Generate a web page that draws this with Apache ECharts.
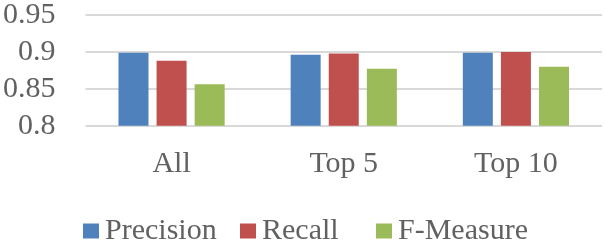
<!DOCTYPE html>
<html>
<head>
<meta charset="utf-8">
<script src="https://cdn.jsdelivr.net/npm/echarts@6/dist/echarts.min.js"></script>
<style>
html,body{margin:0;padding:0;background:#fff;}
#chart{width:605px;height:242px;}
</style>
</head>
<body>
<div id="chart"></div>
<script>
var categories = ['All', 'Top 5', 'Top 10'];
var precision = [0.899, 0.896, 0.899];
var recall = [0.888, 0.898, 0.900];
var fmeasure = [0.856, 0.877, 0.880];
var seriesNames = ['Precision', 'Recall', 'F-Measure'];
var yTicks = { min: 0.8, max: 0.95, interval: 0.05 };

var colors = ['#4F81BD', '#C0504D', '#9BBB59'];
var font = 'Liberation Serif';
var textColor = '#616161';

var chart = echarts.init(document.getElementById('chart'), null, { renderer: 'canvas' });

var legendLefts = [83, 240, 376];
var legends = seriesNames.map(function (n, i) {
  return {
    data: [n],
    left: legendLefts[i],
    top: 216,
    itemWidth: 16,
    itemHeight: 15,
    itemGap: 0,
    icon: 'rect',
    textStyle: { fontFamily: font, fontSize: 30, color: textColor, padding: [0, 0, 0, 1] },
    padding: 0
  };
});

chart.setOption({
  animation: false,
  color: colors,
  legend: legends,
  grid: { left: 83, right: 3, top: 12.7, bottom: 116.3, containLabel: false },
  xAxis: {
    type: 'category',
    data: categories,
    axisLine: { show: false },
    axisTick: { show: false },
    axisLabel: { fontFamily: font, fontSize: 30, color: textColor, margin: 23 }
  },
  yAxis: {
    type: 'value',
    min: yTicks.min,
    max: yTicks.max,
    interval: yTicks.interval,
    axisLine: { show: false },
    axisTick: { show: false },
    splitLine: { lineStyle: { color: '#d9d9d9', width: 2 } },
    axisLabel: { fontFamily: font, fontSize: 30, color: textColor, margin: 30 }
  },
  series: [
    { name: seriesNames[0], type: 'bar', data: precision, barWidth: 30, barGap: '27%' },
    { name: seriesNames[1], type: 'bar', data: recall, barWidth: 30, barGap: '27%' },
    { name: seriesNames[2], type: 'bar', data: fmeasure, barWidth: 30, barGap: '27%' }
  ]
});
</script>
</body>
</html>
